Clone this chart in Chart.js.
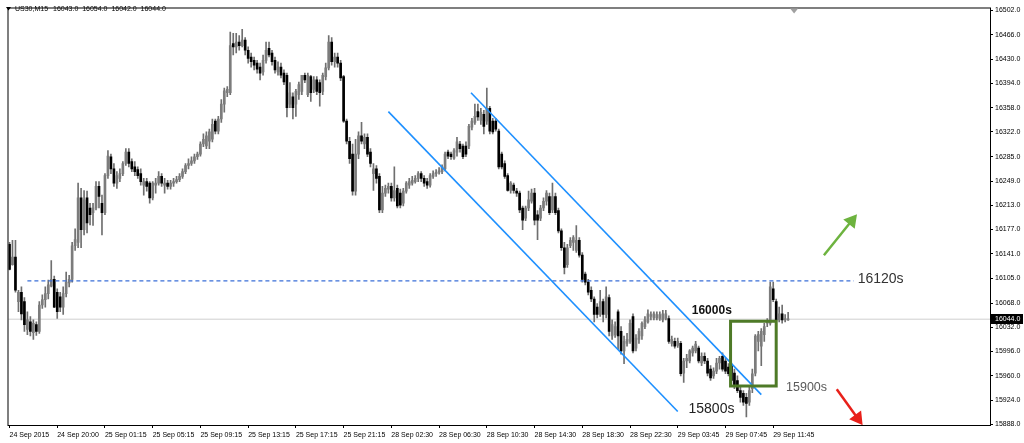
<!DOCTYPE html>
<html><head><meta charset="utf-8">
<script src="https://cdn.jsdelivr.net/npm/chart.js@4.4.1/dist/chart.umd.min.js"></script>
<style>html,body{margin:0;padding:0;background:#fff;overflow:hidden}#wrap{position:relative;width:1024px;height:443px}</style>
</head><body><div id="wrap"><canvas id="c"></canvas></div>
<script>
const symbolTitle = 'US30,M15';
const headerValues = ['16043.0','16054.0','16042.0','16044.0'];
const open = [
16155,16125,16136,16070,16084,16070,16029,16040,16024,16036,
16026,16065,16073,16082,16093,16103,16084,16077,16062,16082,
16098,16103,16153,16158,16224,16177,16224,16209,16202,16209,
16241,16216,16202,16257,16285,16267,16246,16253,16260,16275,
16292,16278,16270,16266,16260,16243,16248,16246,16224,16243,
16246,16256,16243,16246,16241,16246,16248,16251,16256,16263,
16272,16275,16279,16285,16289,16304,16301,16308,16311,16338,
16323,16341,16363,16380,16380,16453,16448,16455,16450,16458,
16443,16433,16428,16424,16418,16411,16428,16446,16439,16428,
16411,16418,16409,16406,16363,16374,16363,16377,16382,16406,
16377,16404,16385,16399,16395,16382,16404,16417,16455,16426,
16433,16424,16404,16338,16308,16289,16234,16289,16316,16304,
16314,16292,16260,16267,16256,16206,16231,16237,16241,16224,
16238,16231,16216,16234,16243,16246,16248,16253,16260,16253,
16248,16243,16256,16260,16262,16263,16267,16292,16289,16283,
16292,16304,16301,16301,16301,16329,16336,16352,16339,16348,
16338,16357,16338,16338,16323,16289,16275,16257,16235,16243,
16234,16231,16209,16194,16209,16219,16231,16199,16194,16209,
16219,16226,16206,16226,16205,16175,16150,16125,16153,16158,
16146,16161,16139,16111,16099,16087,16074,16062,16051,16070,
16051,16076,16019,16021,16055,16026,15997,16008,16011,16048,
16001,16014,16019,16033,16040,16048,16046,16046,16045,16043,
16045,16045,16008,16011,16005,16008,15964,15982,15982,15994,
15997,16001,15979,15989,15982,15970,15960,15967,15979,15989,
15982,15973,15975,15964,15953,15938,15934,15928,15921,15941,
15964,16011,16004,16021,16038,16038,16089,16070,16043,16052,
16043,16043];
const high = [
16158,16161,16161,16087,16092,16076,16055,16048,16043,16040,
16070,16080,16092,16102,16131,16108,16089,16084,16092,16114,
16109,16158,16178,16246,16238,16235,16234,16216,16216,16248,
16248,16228,16260,16294,16289,16275,16263,16267,16278,16297,
16297,16282,16278,16270,16267,16253,16253,16248,16248,16253,
16263,16260,16253,16250,16250,16253,16256,16260,16267,16275,
16282,16285,16289,16292,16307,16319,16322,16326,16341,16341,
16345,16370,16387,16389,16470,16468,16468,16465,16474,16462,
16448,16439,16433,16428,16424,16436,16455,16455,16443,16433,
16426,16424,16414,16409,16395,16380,16385,16396,16406,16409,
16409,16406,16404,16404,16399,16409,16424,16465,16462,16439,
16439,16428,16406,16341,16314,16304,16311,16322,16336,16319,
16319,16297,16275,16272,16260,16241,16243,16246,16246,16270,
16243,16237,16238,16248,16253,16256,16257,16263,16263,16257,
16253,16260,16264,16266,16269,16273,16292,16295,16292,16297,
16314,16308,16304,16307,16333,16342,16363,16363,16357,16354,
16387,16360,16342,16342,16326,16292,16279,16260,16248,16246,
16238,16234,16212,16212,16234,16237,16238,16205,16213,16224,
16235,16231,16246,16231,16209,16178,16158,16155,16165,16168,
16183,16165,16143,16114,16103,16092,16077,16067,16087,16074,
16092,16080,16043,16040,16058,16033,16019,16023,16043,16052,
16021,16030,16040,16048,16058,16055,16055,16055,16055,16057,
16057,16049,16019,16016,16016,16011,15986,15992,15999,16004,
16011,16004,15994,15994,15986,15975,15972,15986,15989,15994,
15986,15978,15979,15970,15960,15945,15938,15934,15945,15970,
16021,16026,16030,16038,16045,16099,16099,16074,16062,16065,
16051,16054];
const low = [
16117,16124,16084,16055,16043,16026,16021,16019,16014,16020,
16023,16060,16062,16074,16092,16061,16045,16055,16051,16077,
16092,16099,16146,16150,16150,16169,16172,16184,16183,16206,
16209,16169,16199,16253,16260,16241,16238,16248,16257,16272,
16270,16263,16257,16253,16243,16228,16234,16216,16221,16231,
16243,16241,16231,16237,16237,16241,16246,16248,16253,16260,
16267,16272,16275,16281,16286,16300,16297,16297,16307,16319,
16319,16336,16351,16374,16377,16436,16439,16443,16448,16436,
16424,16418,16414,16409,16399,16406,16424,16433,16421,16409,
16406,16402,16392,16344,16358,16341,16345,16370,16377,16395,
16374,16367,16380,16377,16360,16377,16399,16414,16421,16418,
16418,16398,16336,16304,16275,16228,16228,16282,16304,16297,
16285,16270,16235,16246,16202,16202,16226,16231,16219,16219,
16209,16209,16212,16231,16238,16243,16246,16248,16248,16241,
16238,16240,16253,16256,16259,16260,16264,16282,16281,16281,
16286,16292,16282,16285,16297,16325,16333,16339,16333,16319,
16333,16319,16319,16323,16267,16267,16253,16234,16231,16231,
16226,16202,16177,16190,16205,16216,16184,16162,16190,16205,
16213,16199,16202,16199,16172,16146,16111,16121,16150,16146,
16143,16136,16099,16095,16080,16070,16040,16046,16048,16040,
16046,16019,16014,16017,15999,15992,15978,16004,16008,15994,
15997,16008,16014,16030,16038,16043,16043,16043,16042,16040,
16043,16008,16004,16001,16002,15960,15950,15972,15979,15989,
15994,15979,15975,15978,15960,15953,15956,15963,15970,15967,
15963,15960,15948,15941,15935,15921,15916,15899,15916,15935,
15960,15997,15975,16011,16033,16035,16070,16040,16040,16038,
16040,16042];
const close = [
16118,16136,16087,16084,16052,16036,16043,16026,16038,16026,
16065,16073,16082,16095,16103,16062,16055,16062,16082,16099,
16103,16153,16162,16224,16177,16221,16187,16199,16209,16241,
16226,16202,16257,16286,16267,16246,16257,16260,16275,16292,
16275,16267,16263,16257,16248,16248,16241,16224,16246,16246,
16256,16246,16246,16241,16246,16248,16251,16256,16263,16272,
16275,16279,16285,16289,16304,16311,16316,16322,16333,16323,
16341,16363,16383,16385,16450,16448,16455,16450,16458,16443,
16431,16426,16421,16415,16409,16428,16443,16436,16426,16414,
16418,16406,16396,16358,16380,16358,16382,16392,16406,16399,
16406,16380,16399,16382,16380,16406,16417,16455,16426,16433,
16424,16402,16338,16308,16282,16234,16289,16316,16308,16314,
16289,16275,16267,16253,16206,16231,16238,16241,16224,16235,
16212,16213,16234,16246,16248,16250,16253,16260,16253,16246,
16243,16257,16260,16262,16264,16270,16289,16286,16285,16294,
16307,16297,16285,16289,16330,16338,16345,16344,16351,16330,
16357,16323,16322,16326,16270,16270,16256,16235,16246,16235,
16231,16206,16191,16209,16221,16231,16191,16191,16209,16219,
16231,16202,16226,16202,16175,16150,16121,16150,16161,16165,
16161,16139,16103,16099,16084,16074,16051,16051,16070,16051,
16077,16026,16036,16033,16019,15997,16011,16014,16038,15997,
16016,16026,16038,16043,16052,16051,16052,16051,16051,16052,
16052,16011,16014,16004,16011,15963,15982,15986,15997,16001,
16007,15982,15989,15982,15964,15957,15967,15979,15986,15970,
15967,15963,15953,15945,15938,15928,15921,15919,15938,15963,
16019,16021,16026,16033,16040,16092,16073,16043,16052,16043,
16045,16044];
const timeLabels = ['24 Sep 2015','24 Sep 20:00','25 Sep 01:15','25 Sep 05:15','25 Sep 09:15','25 Sep 13:15','25 Sep 17:15','25 Sep 21:15','28 Sep 02:30','28 Sep 06:30','28 Sep 10:30','28 Sep 14:30','28 Sep 18:30','28 Sep 22:30','29 Sep 03:45','29 Sep 07:45','29 Sep 11:45'];
const barsPerLabel = 16;
const priceTicks = [16502,16466,16430,16394,16358,16322,16285,16249,16213,16177,16141,16105,16068,16032,15996,15960,15924,15888];
const lastPrice = 16044;
const resistanceLevel = 16101;
const resistanceSpan = [6, 283];
const channelLower = [[127,16352],[224,15907]];
const channelUpper = [[154.7,16380],[252,15932]];
const boxPrices = [16041, 15945];
const boxBars = [241.7, 257];
const upArrow = [[273,16139],[282.3,16190]];
const downArrow = [[277.3,15940],[284.3,15897]];
const notes = [
  {text:'16120s', bar:284.3, price:16104, font:'14px "Liberation Sans"', color:'#333333'},
  {text:'16000s', bar:228.7, price:16057, font:'bold 12px "Liberation Sans"', color:'#111111'},
  {text:'15900s', bar:260.3, price:15943, font:'12.5px "Liberation Sans"', color:'#5a5a5a'},
  {text:'15800s', bar:227.6, price:15911, font:'14px "Liberation Sans"', color:'#222222'}
];

const SMALL = '7px "Liberation Sans"';
const wickData = close.map((c,i)=>({x:i, y:[low[i], high[i]]}));
const bodyData = close.map((c,i)=>({x:i, y:[Math.min(open[i],c), Math.max(open[i],c)]}));
const bodyColors = close.map((c,i)=> c >= open[i] ? '#7c7c7c' : '#000000');
const pts = arr => arr.map(p=>({x:p[0], y:p[1]}));

const framePlugin = {
  id:'mt4frame',
  afterDatasetsDraw(chart){
    const {ctx, scales:{x,y}} = chart;
    ctx.save();
    ctx.textBaseline = 'middle'; ctx.textAlign = 'left';
    for (const n of notes){
      ctx.font = n.font; ctx.fillStyle = n.color;
      ctx.fillText(n.text, x.getPixelForValue(n.bar), y.getPixelForValue(n.price));
    }
    ctx.restore();
  },
  afterDraw(chart){
    const {ctx, chartArea:a, scales:{x,y}} = chart;
    ctx.save();
    ctx.strokeStyle = '#000'; ctx.lineWidth = 1;
    ctx.strokeRect(a.left-0.5, a.top-0.5, a.right-a.left+1, a.bottom-a.top+1);
    ctx.fillStyle = '#000';
    ctx.beginPath(); ctx.moveTo(6,7); ctx.lineTo(11,7); ctx.lineTo(8.5,10.5); ctx.closePath(); ctx.fill();
    ctx.font = SMALL; ctx.textBaseline = 'middle'; ctx.textAlign = 'left';
    ctx.fillText(symbolTitle, 15, 9);
    ctx.fillText(headerValues.join('  '), 53, 9);
    const sx = x.getPixelForValue(close.length + 1);
    ctx.fillStyle = '#a0a0a0';
    ctx.beginPath(); ctx.moveTo(sx-4, a.top); ctx.lineTo(sx+4, a.top); ctx.lineTo(sx, a.top+5); ctx.closePath(); ctx.fill();
    const py = Math.round(y.getPixelForValue(lastPrice));
    ctx.fillStyle = '#000';
    ctx.fillRect(a.right+1, py-5, 32, 10);
    ctx.fillStyle = '#fff';
    ctx.fillText(lastPrice.toFixed(1), a.right+5, py);
    ctx.restore();
  }
};

new Chart(document.getElementById('c'), {
  type:'bar',
  data:{
    datasets:[
      {type:'line', data:[{x:-1,y:lastPrice},{x:330,y:lastPrice}], borderColor:'#cfcfcf', borderWidth:1, pointRadius:0, order:20},
      {type:'bar', data:wickData, backgroundColor:'#6f6f6f', barThickness:1, grouped:false, order:6},
      {type:'bar', data:bodyData, backgroundColor:bodyColors, barThickness:2, minBarLength:1, grouped:false, order:5},
      {type:'line', data:[{x:resistanceSpan[0],y:resistanceLevel},{x:resistanceSpan[1],y:resistanceLevel}], borderColor:'#3a6fd8', borderWidth:1.3, borderDash:[4,3], pointRadius:0, order:4},
      {type:'line', data:pts(channelLower), borderColor:'#1e90ff', borderWidth:1.6, pointRadius:0, order:3},
      {type:'line', data:pts(channelUpper), borderColor:'#1e90ff', borderWidth:1.6, pointRadius:0, order:3},
      {type:'line', data:[{x:boxBars[0],y:boxPrices[0]},{x:boxBars[1],y:boxPrices[0]},{x:boxBars[1],y:boxPrices[1]},{x:boxBars[0],y:boxPrices[1]},{x:boxBars[0],y:boxPrices[0]}], borderColor:'#4e7a27', borderWidth:3, borderJoinStyle:'miter', borderCapStyle:'square', pointRadius:0, order:2},
      {type:'line', data:pts(upArrow), borderColor:'#6db33f', borderWidth:2.5, pointRadius:[0,6], pointStyle:'triangle', pointRotation:[0,39], pointBackgroundColor:'#6db33f', pointBorderColor:'#6db33f', order:1, clip:false},
      {type:'line', data:pts(downArrow), borderColor:'#e8201a', borderWidth:2.5, pointRadius:[0,6], pointStyle:'triangle', pointRotation:[0,144], pointBackgroundColor:'#e8201a', pointBorderColor:'#e8201a', order:1, clip:false}
    ]
  },
  options:{
    responsive:true, maintainAspectRatio:false, animation:false, events:[],
    layout:{padding:{left:3, top:3, right:0, bottom:0}},
    plugins:{legend:{display:false}, tooltip:{enabled:false}},
    scales:{
      x:{type:'linear', min:-1/3, max:328+2/3, offset:false,
        afterBuildTicks:s=>{ s.ticks = timeLabels.map((_,k)=>({value:k*barsPerLabel})); },
        afterFit:s=>{ s.height = 18; s.paddingLeft = 0; s.paddingRight = 0; },
        grid:{drawOnChartArea:false, offset:false, tickLength:3, tickColor:'#000'},
        border:{display:false},
        ticks:{align:'start', padding:3, maxRotation:0, minRotation:0, autoSkip:false, color:'#000', font:{family:'Liberation Sans', size:7}, callback:(v,i)=>timeLabels[i]}
      },
      y:{type:'linear', position:'right', min:15887, max:16505,
        afterBuildTicks:s=>{ s.ticks = priceTicks.map(v=>({value:v})); },
        afterFit:s=>{ s.width = 34; s.paddingTop = 0; s.paddingBottom = 0; },
        grid:{drawOnChartArea:false, tickLength:3, tickColor:'#000'},
        border:{display:false},
        ticks:{padding:2, autoSkip:false, color:'#000', font:{family:'Liberation Sans', size:7}, callback:v=>Number(v).toFixed(1)}
      }
    }
  },
  plugins:[framePlugin]
});
</script></body></html>
